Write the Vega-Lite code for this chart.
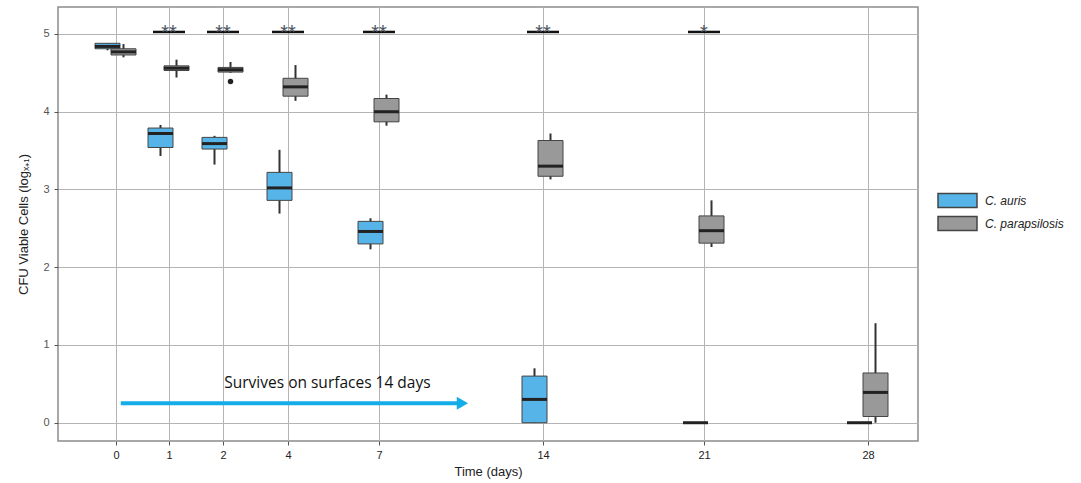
{
  "$schema": "https://vega.github.io/schema/vega-lite/v6.json",
  "width": 860,
  "height": 434,
  "autosize": {"type": "none"},
  "padding": {"left": 58, "top": 7, "right": 163, "bottom": 42},
  "background": "white",
  "config": {
    "view": {"stroke": "#8c8c8c", "strokeWidth": 1.5, "fill": "white"},
    "font": "Liberation Sans",
    "axis": {
      "domain": false,
      "grid": true,
      "gridColor": "#b4b4b4",
      "gridWidth": 1,
      "tickColor": "#555555",
      "tickSize": 4,
      "labelFont": "Liberation Sans",
      "titleFont": "Liberation Sans",
      "titleFontWeight": "normal"
    }
  },
  "datasets": {
    "boxes": [
      {"day": 0, "sp": "C. auris", "min": 4.79, "q1": 4.81, "med": 4.84, "q3": 4.88, "max": 4.88},
      {"day": 1, "sp": "C. auris", "min": 3.43, "q1": 3.54, "med": 3.72, "q3": 3.79, "max": 3.83},
      {"day": 2, "sp": "C. auris", "min": 3.32, "q1": 3.52, "med": 3.59, "q3": 3.67, "max": 3.69},
      {"day": 4, "sp": "C. auris", "min": 2.69, "q1": 2.86, "med": 3.02, "q3": 3.22, "max": 3.51},
      {"day": 7, "sp": "C. auris", "min": 2.23, "q1": 2.30, "med": 2.46, "q3": 2.59, "max": 2.63},
      {"day": 14, "sp": "C. auris", "min": 0, "q1": 0, "med": 0.30, "q3": 0.60, "max": 0.70},
      {"day": 21, "sp": "C. auris", "min": 0, "q1": 0, "med": 0, "q3": 0, "max": 0},
      {"day": 28, "sp": "C. auris", "min": 0, "q1": 0, "med": 0, "q3": 0, "max": 0},
      {"day": 0, "sp": "C. parapsilosis", "min": 4.70, "q1": 4.73, "med": 4.77, "q3": 4.81, "max": 4.87},
      {"day": 1, "sp": "C. parapsilosis", "min": 4.44, "q1": 4.53, "med": 4.56, "q3": 4.59, "max": 4.67},
      {"day": 2, "sp": "C. parapsilosis", "min": 4.50, "q1": 4.51, "med": 4.54, "q3": 4.57, "max": 4.64},
      {"day": 4, "sp": "C. parapsilosis", "min": 4.14, "q1": 4.20, "med": 4.32, "q3": 4.43, "max": 4.60},
      {"day": 7, "sp": "C. parapsilosis", "min": 3.82, "q1": 3.87, "med": 4.00, "q3": 4.17, "max": 4.22},
      {"day": 14, "sp": "C. parapsilosis", "min": 3.13, "q1": 3.17, "med": 3.30, "q3": 3.63, "max": 3.72},
      {"day": 21, "sp": "C. parapsilosis", "min": 2.26, "q1": 2.31, "med": 2.47, "q3": 2.66, "max": 2.86},
      {"day": 28, "sp": "C. parapsilosis", "min": 0.0, "q1": 0.08, "med": 0.39, "q3": 0.64, "max": 1.28}
    ],
    "outliers": [
      {"day": 2, "sp": "C. parapsilosis", "value": 4.39}
    ],
    "sig": [
      {"day": 1, "label": "**", "y": 5.026, "ty": 4.93},
      {"day": 2, "label": "**", "y": 5.026, "ty": 4.93},
      {"day": 4, "label": "**", "y": 5.026, "ty": 4.93},
      {"day": 7, "label": "**", "y": 5.026, "ty": 4.93},
      {"day": 14, "label": "**", "y": 5.026, "ty": 4.93},
      {"day": 21, "label": "*", "y": 5.026, "ty": 4.93}
    ],
    "arrow": [
      {"x": 0.09, "x2": 10.4, "y": 0.25, "tip": 10.56, "tx": 5.3, "ty": 0.515, "text": "Survives on surfaces 14 days"}
    ]
  },
  "encoding": {
    "x": {
      "field": "day",
      "type": "quantitative",
      "scale": {
        "domain": [-1.1, 0, 1, 2, 4, 7, 14, 21, 28, 30.15],
        "range": [0, 58, 111, 165, 230, 321, 485, 646, 810, 860],
        "nice": false,
        "zero": false
      },
      "axis": {
        "values": [0, 1, 2, 4, 7, 14, 21, 28],
        "title": "Time (days)",
        "labelColor": "#222222",
        "labelFontSize": 11,
        "labelPadding": 4,
        "titleFontSize": 13,
        "titleColor": "#222222",
        "titlePadding": 5
      }
    }
  },
  "layer": [
    {
      "data": {"name": "boxes"},
      "transform": [{"filter": "datum.sp === 'C. auris'"}],
      "layer": [
        {
          "mark": {"type": "rule", "xOffset": -8.5, "color": "#333333", "strokeWidth": 2},
          "encoding": {
            "y": {
              "field": "min",
              "type": "quantitative",
              "scale": {"domain": [-0.235, 5.347], "nice": false, "zero": false},
              "axis": {
                "values": [0, 1, 2, 3, 4, 5],
                "format": "d",
                "title": "CFU Viable Cells (logₓ₊₁)",
                "labelColor": "#555555",
                "labelFontSize": 11,
                "labelPadding": 5,
                "titleFontSize": 13,
                "titleColor": "#222222",
                "titlePadding": 12
              }
            },
            "y2": {"field": "max"}
          }
        },
        {
          "mark": {"type": "bar", "xOffset": -8.5, "width": 25, "stroke": "#444444", "strokeWidth": 1, "orient": "vertical"},
          "encoding": {
            "y": {"field": "q1", "type": "quantitative"},
            "y2": {"field": "q3"},
            "color": {
              "field": "sp",
              "type": "nominal",
              "scale": {"domain": ["C. auris", "C. parapsilosis"], "range": ["#56B4E9", "#999999"]},
              "legend": {
                "title": null,
                "orient": "none",
                "legendX": 889,
                "legendY": 183,
                "symbolType": "M-2,-0.72L2,-0.72L2,0.72L-2,0.72Z",
                "symbolSize": 380,
                "symbolStrokeColor": "#333333",
                "symbolStrokeWidth": 1.5,
                "symbolOpacity": 1,
                "labelFont": "Liberation Sans",
                "labelFontStyle": "italic",
                "labelFontSize": 12,
                "labelColor": "#222222",
                "labelOffset": 17,
                "rowPadding": 2
              }
            }
          }
        },
        {
          "mark": {"type": "tick", "xOffset": -8.5, "orient": "horizontal", "size": 25, "thickness": 3, "color": "#222222", "opacity": 1},
          "encoding": {
            "y": {"field": "med", "type": "quantitative"}
          }
        }
      ]
    },
    {
      "data": {"name": "boxes"},
      "transform": [{"filter": "datum.sp === 'C. parapsilosis'"}],
      "layer": [
        {
          "mark": {"type": "rule", "xOffset": 7.5, "color": "#333333", "strokeWidth": 2},
          "encoding": {
            "y": {"field": "min", "type": "quantitative"},
            "y2": {"field": "max"}
          }
        },
        {
          "mark": {"type": "bar", "xOffset": 7.5, "width": 25, "stroke": "#444444", "strokeWidth": 1, "orient": "vertical"},
          "encoding": {
            "y": {"field": "q1", "type": "quantitative"},
            "y2": {"field": "q3"},
            "color": {"field": "sp", "type": "nominal"}
          }
        },
        {
          "mark": {"type": "tick", "xOffset": 7.5, "orient": "horizontal", "size": 25, "thickness": 3, "color": "#222222", "opacity": 1},
          "encoding": {
            "y": {"field": "med", "type": "quantitative"}
          }
        }
      ]
    },
    {
      "data": {"name": "outliers"},
      "mark": {"type": "point", "xOffset": 7.5, "filled": true, "color": "#222222", "size": 30, "opacity": 1},
      "encoding": {
        "y": {"field": "value", "type": "quantitative"}
      }
    },
    {
      "data": {"name": "sig"},
      "mark": {"type": "tick", "orient": "horizontal", "size": 32, "thickness": 2.5, "color": "#111111", "opacity": 1},
      "encoding": {
        "y": {"field": "y", "type": "quantitative"}
      }
    },
    {
      "data": {"name": "sig"},
      "mark": {"type": "text", "fontSize": 20, "color": "#4e5562", "baseline": "alphabetic", "align": "center", "font": "Liberation Sans"},
      "encoding": {
        "y": {"field": "ty", "type": "quantitative"},
        "text": {"field": "label"}
      }
    },
    {
      "data": {"name": "arrow"},
      "mark": {"type": "rule", "color": "#14ADE8", "strokeWidth": 4},
      "encoding": {
        "x": {"field": "x", "type": "quantitative"},
        "x2": {"field": "x2"},
        "y": {"field": "y", "type": "quantitative"}
      }
    },
    {
      "data": {"name": "arrow"},
      "mark": {"type": "point", "shape": "triangle-right", "filled": true, "color": "#14ADE8", "size": 170, "opacity": 1},
      "encoding": {
        "x": {"field": "tip", "type": "quantitative"},
        "y": {"field": "y", "type": "quantitative"}
      }
    },
    {
      "data": {"name": "arrow"},
      "mark": {"type": "text", "fontSize": 15.5, "color": "#111111", "font": "Open Sans", "align": "center", "baseline": "middle"},
      "encoding": {
        "x": {"field": "tx", "type": "quantitative"},
        "y": {"field": "ty", "type": "quantitative"},
        "text": {"field": "text"}
      }
    }
  ]
}
